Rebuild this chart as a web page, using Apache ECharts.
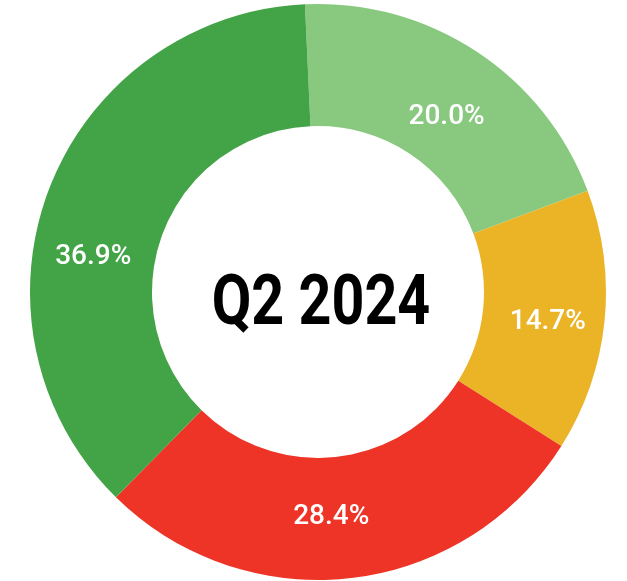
<!DOCTYPE html>
<html>
<head>
<meta charset="utf-8">
<script src="https://cdn.jsdelivr.net/npm/echarts@6/dist/echarts.min.js"></script>
<style>
html, body { margin: 0; padding: 0; background: #fff; }
#main { width: 627px; height: 581px; }
</style>
</head>
<body>
<div id="main"></div>
<script>
// slice order clockwise from the top
var names = ['A', 'B', 'C', 'D'];
var values = [20.0, 14.7, 28.4, 36.9];
var colors = ['#88c97f', '#ebb326', '#ee3426', '#43a347'];
var centerLabel = 'Q2 2024';

// labels are not sitting exactly on the mid angle in the original
var labelShift = [[2, 17], [1, 7], [-13, -3], [-10, 47]];

var myChart = echarts.init(document.getElementById('main'));

var pieData = [];
for (var i = 0; i < values.length; i++) {
    pieData.push({
        name: names[i],
        value: values[i],
        itemStyle: { color: colors[i] },
        label: { offset: labelShift[i] }
    });
}

var options = {
    animation: false,
    graphic: [{
        type: 'text',
        x: 321,
        y: 306,
        scaleX: 0.82,
        style: {
            text: centerLabel,
            align: 'center',
            verticalAlign: 'middle',
            fontFamily: 'Roboto',
            fontWeight: 'bold',
            fontSize: 70,
            fill: '#000'
        }
    }],
    series: [{
        type: 'pie',
        center: [318, 292],
        radius: [166, 288],
        startAngle: 92.6,
        clockwise: true,
        data: pieData,
        itemStyle: { borderWidth: 0 },
        label: {
            show: true,
            position: 'inside',
            formatter: function (p) { return p.value.toFixed(1) + '%'; },
            color: '#fff',
            fontFamily: 'Roboto',
            fontWeight: 500,
            fontSize: 28
        },
        labelLine: { show: false }
    }]
};
myChart.setOption(options);
</script>
</body>
</html>
